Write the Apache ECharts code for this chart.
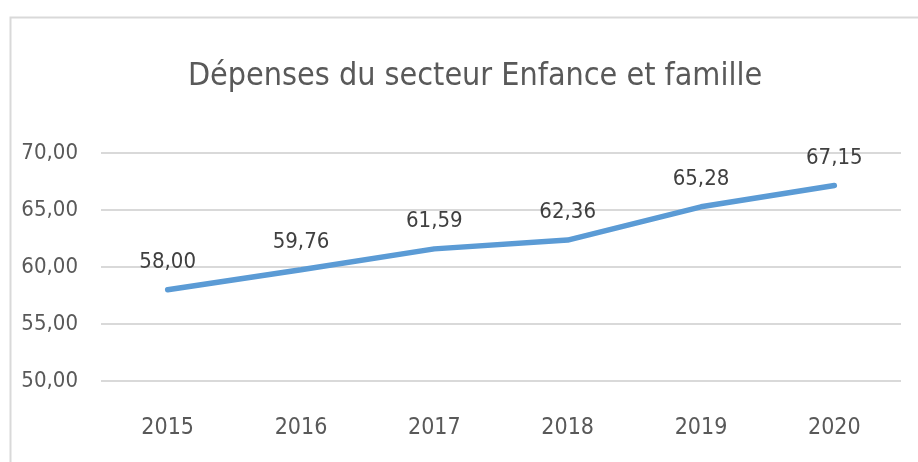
<!DOCTYPE html>
<html>
<head>
<meta charset="utf-8">
<script src="https://cdn.jsdelivr.net/npm/echarts@6/dist/echarts.min.js"></script>
<style>html,body{margin:0;padding:0;background:#fff}#c{width:918px;height:462px}</style>
</head>
<body>
<div id="c"></div>
<script>
const titleText = "Dépenses du secteur Enfance et famille";
const years = ["2015", "2016", "2017", "2018", "2019", "2020"];
const values = [58.00, 59.76, 61.59, 62.36, 65.28, 67.15];
const yMin = 50, yMax = 70, yStep = 5;

const FONT = '"DejaVu Sans Condensed", "Liberation Sans Narrow", sans-serif';
const fmt = v => v.toFixed(2).replace('.', ',');

const chart = echarts.init(document.getElementById('c'), null, {renderer: 'canvas'});
chart.setOption({
  animation: false,
  backgroundColor: '#ffffff',
  graphic: [{
    type: 'rect', left: 8, top: 15, silent: true,
    shape: {width: 940, height: 480},
    style: {fill: 'none', stroke: '#d9d9d9', lineWidth: 2}
  }],
  title: {
    text: titleText, left: 470, textAlign: 'center', top: 56,
    textStyle: {fontFamily: FONT, fontSize: 32, fontWeight: 'normal', color: '#595959'}
  },
  grid: {left: 101, right: 17, top: 153, bottom: 81, containLabel: false},
  xAxis: {
    type: 'category', data: years, boundaryGap: true,
    axisLine: {show: false}, axisTick: {show: false},
    axisLabel: {fontFamily: FONT, fontSize: 23, color: '#595959', margin: 36}
  },
  yAxis: {
    type: 'value', min: yMin, max: yMax, interval: yStep,
    axisLine: {show: false}, axisTick: {show: false},
    splitLine: {lineStyle: {color: '#d9d9d9', width: 2}},
    axisLabel: {fontFamily: FONT, fontSize: 22, color: '#595959', margin: 23, formatter: v => fmt(v)}
  },
  series: [{
    type: 'line', data: values, symbol: 'circle', symbolSize: 1, showSymbol: true,
    itemStyle: {color: 'rgba(0,0,0,0)'},
    lineStyle: {color: '#5b9bd5', width: 5.5, cap: 'round'},
    label: {show: true, position: 'top', distance: 16, fontFamily: FONT, fontSize: 22, color: '#404040',
      formatter: p => fmt(p.value)}
  }]
});
</script>
</body>
</html>
